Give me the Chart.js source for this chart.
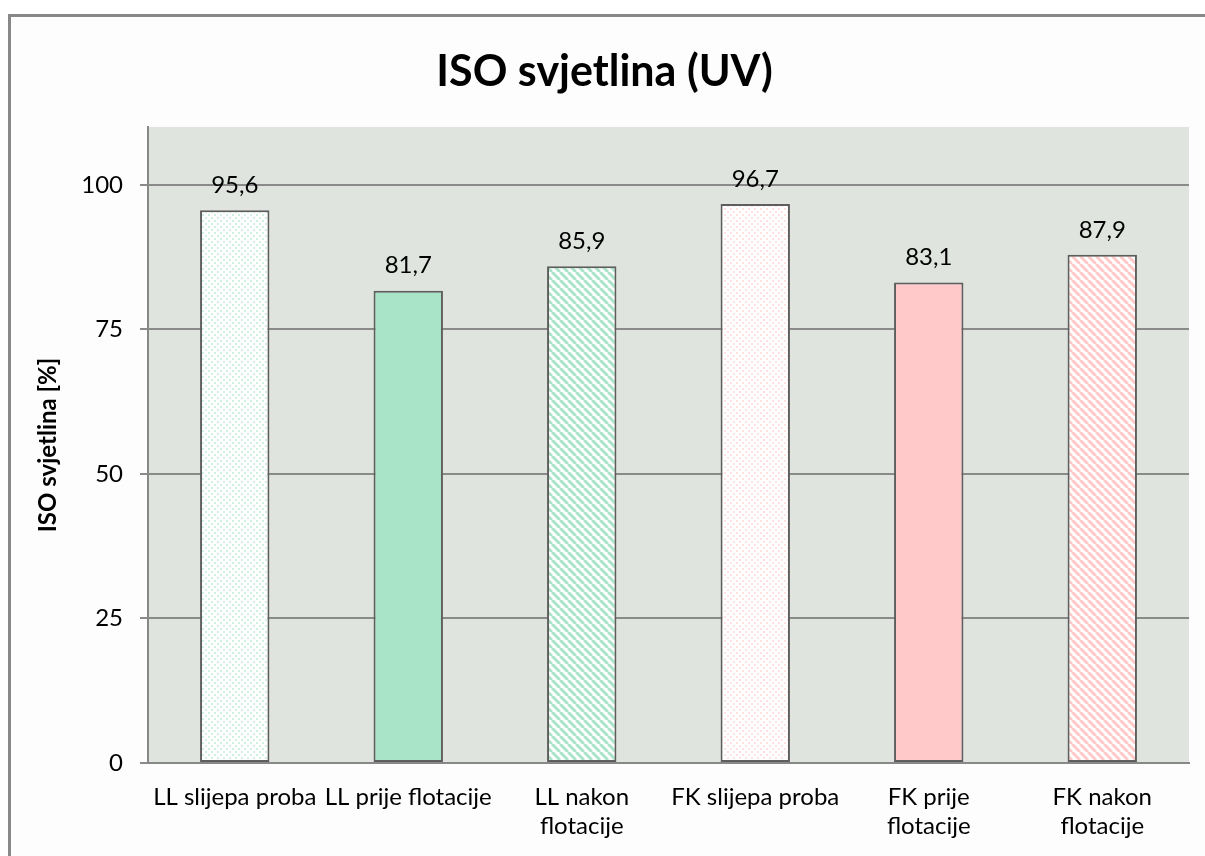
<!DOCTYPE html>
<html>
<head>
<meta charset="utf-8">
<script src="https://cdn.jsdelivr.net/npm/chart.js@4.4.0/dist/chart.umd.js"></script>
<style>
  html, body { margin: 0; padding: 0; background: #ffffff; }
  #wrap { position: relative; width: 1205px; height: 856px; overflow: hidden; }
  #frame {
    position: absolute; left: 8px; top: 14px; width: 1300px; height: 900px;
    border-top: 3px solid #888888; border-left: 3px solid #888888;
    background: #fdfdfd;
  }
  #chart { position: absolute; left: 0; top: 0; }
</style>
</head>
<body>
<div id="wrap">
  <div id="frame"></div>
  <canvas id="chart" width="1205" height="856"></canvas>
</div>
<script>
// chart data
const categories = [
    'LL slijepa proba',
    'LL prije flotacije',
    ['LL nakon', 'flotacije'],
    'FK slijepa proba',
    ['FK prije', 'flotacije'],
    ['FK nakon', 'flotacije']
];
const values = [95.6, 81.7, 85.9, 96.7, 83.1, 87.9];
const yTicks = [0, 25, 50, 75, 100];

const GREEN = '#a9e4c9';
const PINK = '#ffc9c9';
const FONT = 'Lato, "Open Sans", sans-serif';

// dotted fill (the "slijepa proba" bars)
function dotPattern(color) {
    const c = document.createElement('canvas');
    c.width = 6; c.height = 6;
    const g = c.getContext('2d');
    g.fillStyle = '#ffffff';
    g.fillRect(0, 0, 6, 6);
    g.fillStyle = color;
    g.globalAlpha = 0.55;
    g.fillRect(1, 1, 2, 2);
    g.fillRect(4, 4, 2, 2);
    return g.createPattern(c, 'repeat');
}

// diagonal stripes, top-left to bottom-right
function stripePattern(color) {
    const s = 8;
    const c = document.createElement('canvas');
    c.width = s; c.height = s;
    const g = c.getContext('2d');
    g.fillStyle = '#ffffff';
    g.fillRect(0, 0, s, s);
    g.strokeStyle = color;
    g.lineWidth = 3;
    for (let k = -1; k <= 1; k++) {
        g.beginPath();
        g.moveTo(k * s, 0);
        g.lineTo(k * s + s, s);
        g.stroke();
    }
    return g.createPattern(c, 'repeat');
}

const fills = [
    dotPattern(GREEN), GREEN, stripePattern(GREEN),
    dotPattern(PINK), PINK, stripePattern(PINK)
];

// plot area background
const plotBg = {
    id: 'plotBg',
    beforeDraw(chart) {
        const { ctx, chartArea: a } = chart;
        ctx.save();
        ctx.fillStyle = '#dfe5de';
        ctx.fillRect(a.left, a.top, a.right - a.left, a.bottom - a.top);
        ctx.restore();
    }
};

// value labels above the bars, decimal comma
const valueLabels = {
    id: 'valueLabels',
    afterDatasetsDraw(chart) {
        const { ctx } = chart;
        const meta = chart.getDatasetMeta(0);
        ctx.save();
        ctx.font = '24px ' + FONT;
        ctx.fillStyle = '#000000';
        ctx.textAlign = 'center';
        ctx.textBaseline = 'middle';
        meta.data.forEach((bar, i) => {
            ctx.fillText(values[i].toFixed(1).replace('.', ','), bar.x, bar.y - 25);
        });
        ctx.restore();
    }
};

new Chart(document.getElementById('chart'), {
    type: 'bar',
    data: {
        labels: categories,
        datasets: [{
            data: values,
            backgroundColor: fills,
            borderColor: '#5e5e5e',
            borderWidth: 2,
            borderSkipped: false,
            barPercentage: 0.4,
            categoryPercentage: 1
        }]
    },
    options: {
        responsive: false,
        animation: false,
        devicePixelRatio: 1,
        layout: { padding: { left: 20, right: 16, top: 20, bottom: 0 } },
        plugins: {
            legend: { display: false },
            tooltip: { enabled: false },
            title: {
                display: true,
                text: 'ISO svjetlina (UV)',
                color: '#000000',
                font: { family: FONT, size: 43, weight: 'bold', lineHeight: 1.2 },
                padding: { top: 26, bottom: 29.4 }
            }
        },
        scales: {
            x: {
                grid: { display: false, drawTicks: false },
                border: { display: true, color: '#888888', width: 2 },
                ticks: {
                    color: '#000000',
                    font: { family: FONT, size: 24, lineHeight: 1.2 },
                    padding: 20,
                    maxRotation: 0,
                    autoSkip: false
                },
                afterFit(scale) { scale.height = 93; }
            },
            y: {
                min: 0,
                max: 110,
                afterBuildTicks(scale) { scale.ticks = yTicks.map(v => ({ value: v })); },
                grid: { color: '#8a8a8a', lineWidth: 2, tickLength: 8 },
                border: { display: true, color: '#888888', width: 2 },
                ticks: {
                    color: '#000000',
                    font: { family: FONT, size: 24 },
                    padding: 17
                },
                title: {
                    display: true,
                    text: 'ISO svjetlina [%]',
                    color: '#000000',
                    font: { family: FONT, size: 24, weight: 'bold', lineHeight: 1.2 },
                    padding: { top: 14, bottom: 0 }
                },
                afterFit(scale) { scale.width = 128; }
            }
        }
    },
    plugins: [plotBg, valueLabels]
});
</script>
</body>
</html>
